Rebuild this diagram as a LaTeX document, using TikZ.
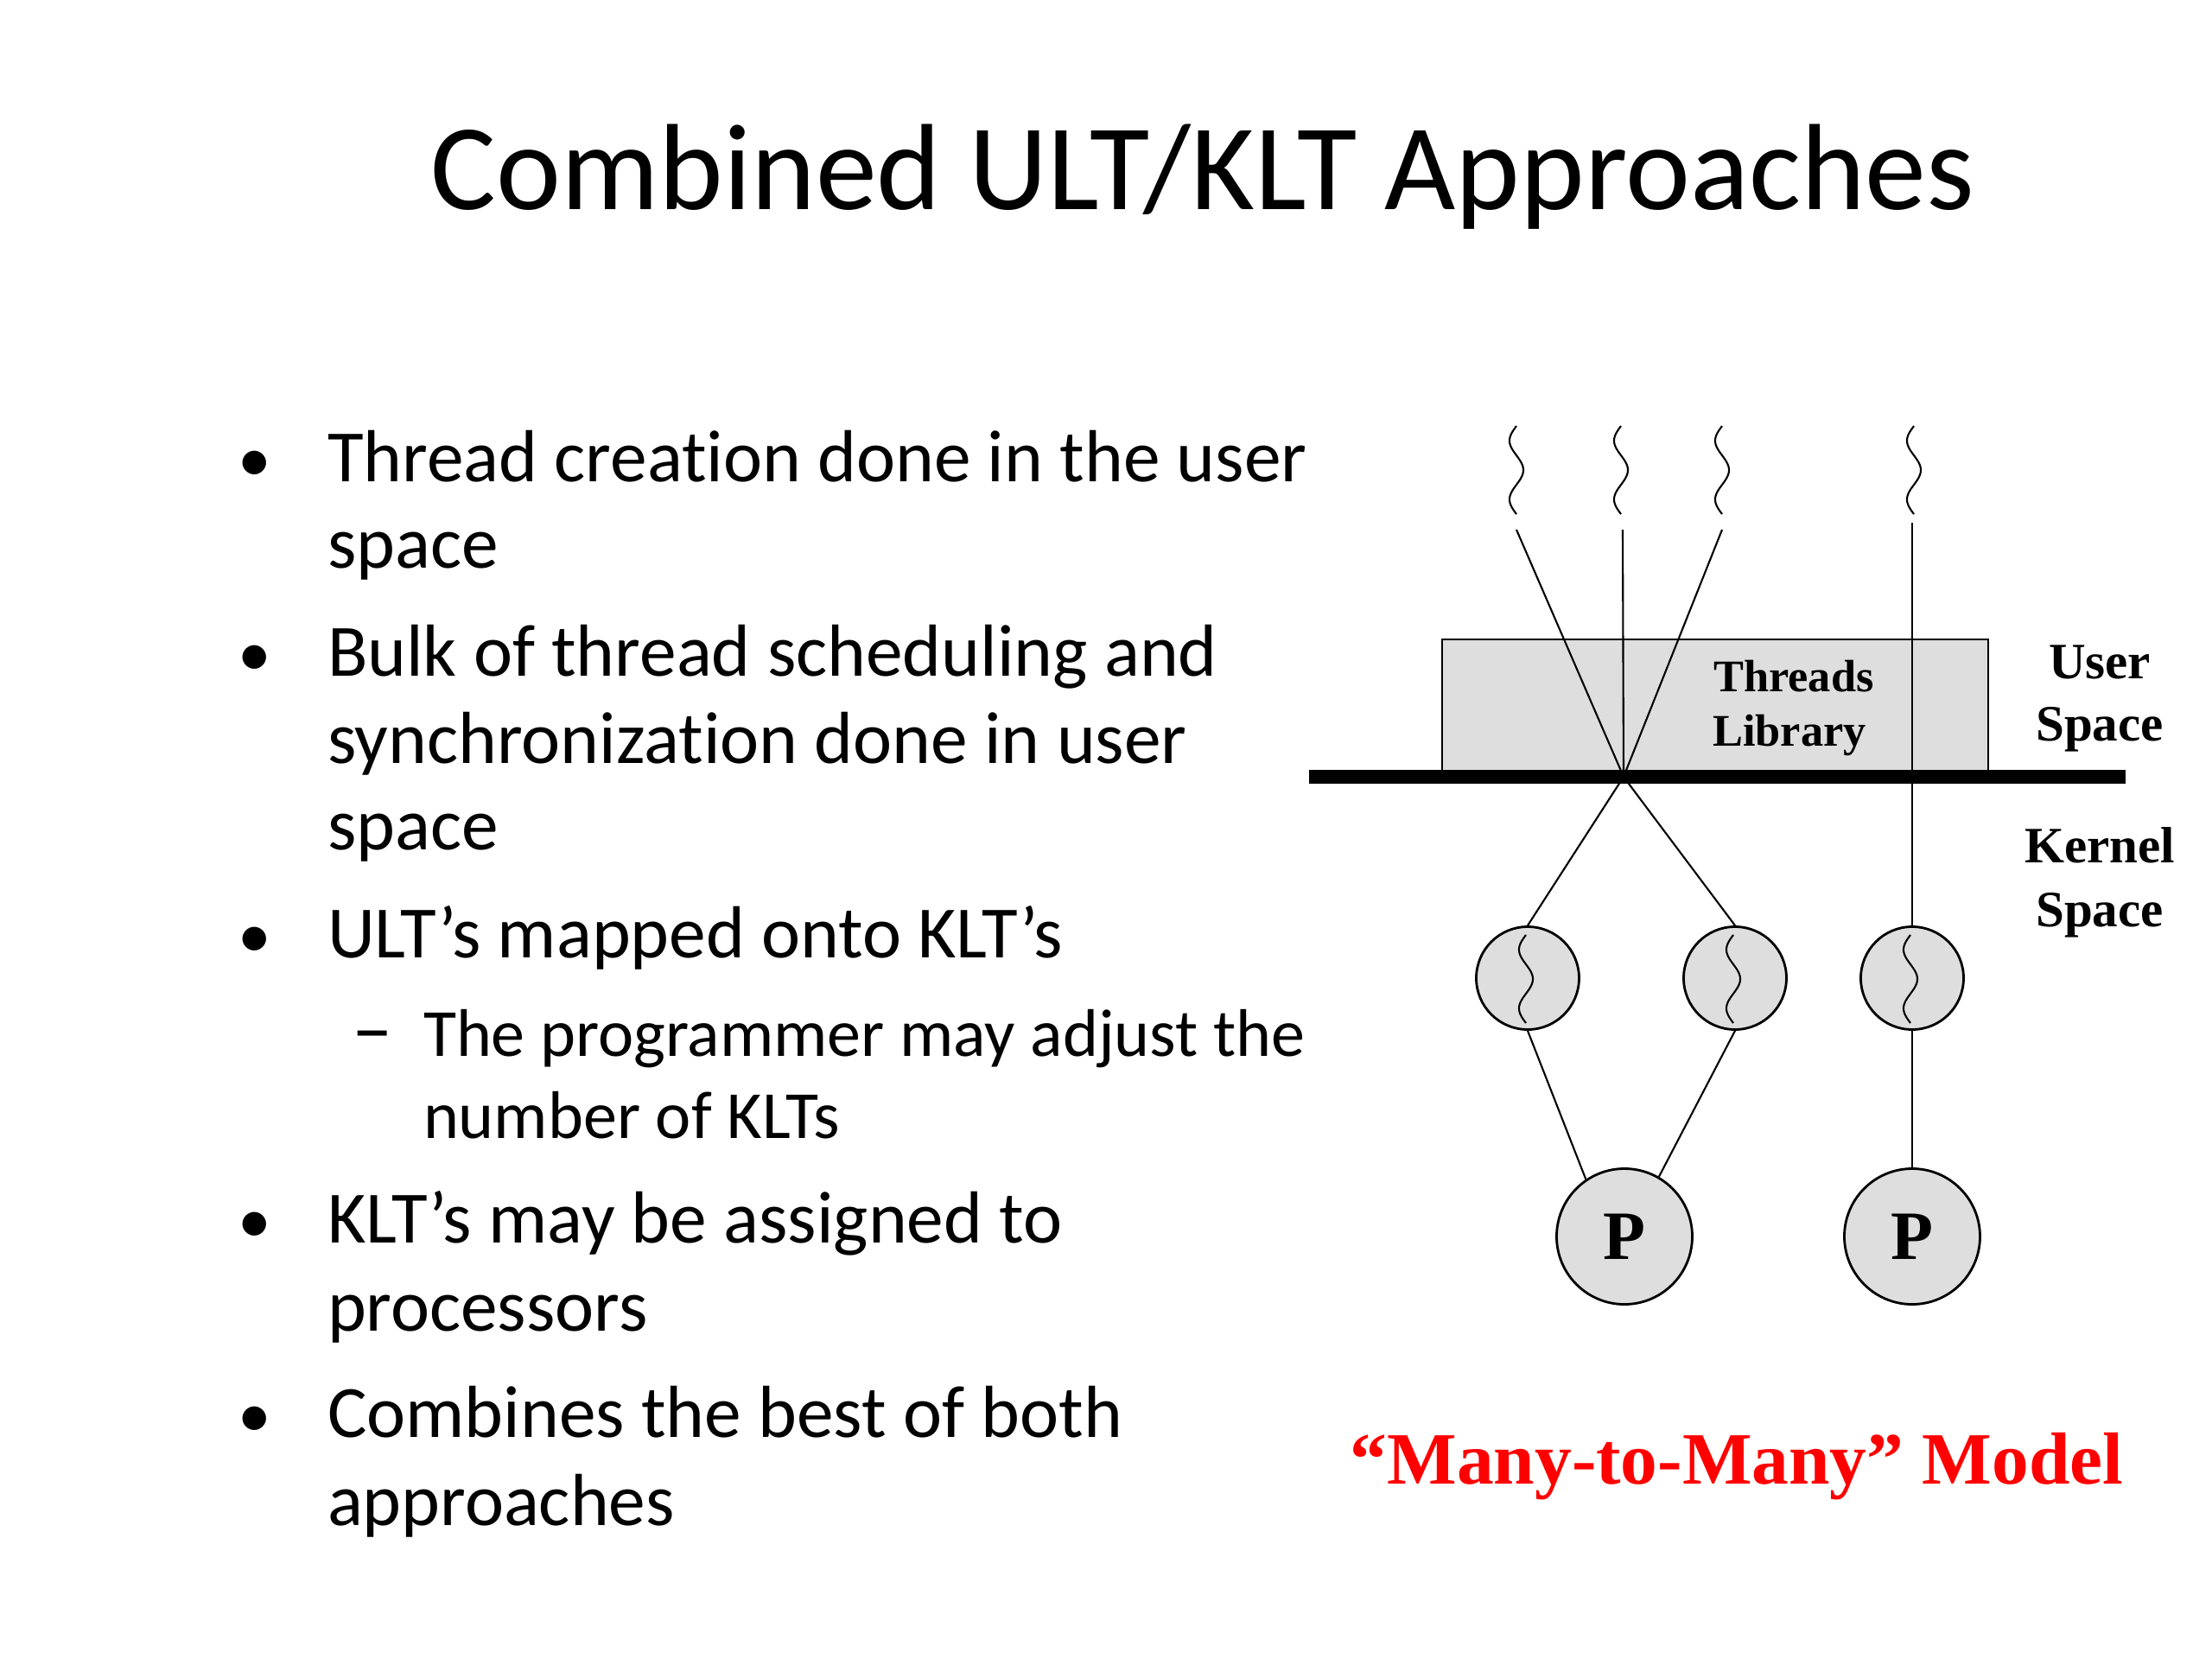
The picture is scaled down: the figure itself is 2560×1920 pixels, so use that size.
\documentclass[tikz,border=0pt]{standalone}
\usepackage{fontspec}
\setmainfont{Carlito}[Ligatures=NoCommon]
\newfontfamily\tnr{Liberation Serif}
\definecolor{cgray}{HTML}{DEDEDE}
\definecolor{cred}{HTML}{FF0000}
\begin{document}
\begin{tikzpicture}[x=0.1mm,y=-0.1mm,
  txt/.style={inner sep=0pt, outer sep=0pt},
  lvlone/.style={txt, anchor=base west, font=\fontsize{24.3}{28}\selectfont},
  lvltwo/.style={txt, anchor=base west, font=\fontsize{22.2}{26}\selectfont},
  bul/.style={txt, anchor=base, font=\fontsize{22}{28}\selectfont},
  dsh/.style={txt, anchor=base, font=\fontsize{27}{30}\selectfont},
  thin/.style={line width=0.6pt, black},
  kcirc/.style={circle, draw=black, line width=0.8pt, fill=cgray, minimum size=11.9mm, inner sep=0pt},
  pcirc/.style={circle, draw=black, line width=0.8pt, fill=cgray, minimum size=15.7mm, inner sep=0pt,
                font=\tnr\bfseries\fontsize{22.8}{26}\selectfont},
  libtxt/.style={txt, anchor=base, font=\tnr\bfseries\fontsize{14.9}{18}\selectfont},
  sptxt/.style={txt, anchor=base, font=\tnr\bfseries\fontsize{16.8}{20}\selectfont},
  squig/.pic={\draw[thin] plot[domain=0:102, samples=60, variable=\t] ({-8*sin(\t/68*360)},\t);}
]
\useasboundingbox (0,0) rectangle (2560,1920);
\fill[white] (0,0) rectangle (2560,1920);

% title
\node[txt, anchor=base, font=\fontsize{40.4}{48}\selectfont] (title) at (1392,242) {Combined ULT/KLT Approaches};

% bullets
\node[bul] (m1) at (295,557) {•};
\node[lvlone] (b1a) at (379,557) {Thread creation done in the user};
\node[lvlone] (b1b) at (379,657) {space};
\node[bul] (m2) at (295,782) {•};
\node[lvlone] (b2a) at (379,782) {Bulk of thread scheduling and};
\node[lvlone] (b2b) at (379,883) {synchronization done in user};
\node[lvlone] (b2c) at (379,983) {space};
\node[bul] (m3) at (295,1108) {•};
\node[lvlone] (b3a) at (379,1108) {ULT’s mapped onto KLT’s};
\node[dsh] (d1) at (431,1222) {–};
\node[lvltwo] (s1a) at (490,1222) {The programmer may adjust the};
\node[lvltwo] (s1b) at (490,1317) {number of KLTs};
\node[bul] (m4) at (295,1438) {•};
\node[lvlone] (b4a) at (379,1438) {KLT’s may be assigned to};
\node[lvlone] (b4b) at (379,1540) {processors};
\node[bul] (m5) at (295,1663) {•};
\node[lvlone] (b5a) at (379,1663) {Combines the best of both};
\node[lvlone] (b5b) at (379,1765) {approaches};

% diagram: threads library box
\draw[fill=cgray, draw=black, line width=0.8pt] (1669,740) rectangle (2301,895);
\node[libtxt] (lib1) at (2076,800) {Threads};
\node[libtxt] (lib2) at (2071,863) {Library};

% user-level threads
\pic at (1755,493) {squig};
\pic at (1876,493) {squig};
\pic at (1993,493) {squig};
\pic at (2215,493) {squig};
\coordinate (t1) at (1755,613);
\coordinate (t2) at (1878,613);
\coordinate (t3) at (1993,613);
\coordinate (t4) at (2213,605);
\coordinate (X) at (1879,899);

% kernel threads and processors
\node[kcirc] (k1) at (1768,1132) {};
\node[kcirc] (k2) at (2008,1132) {};
\node[kcirc] (k3) at (2213,1132) {};
\pic at (1766,1082) {squig};
\pic at (2006,1082) {squig};
\pic at (2211,1082) {squig};
\node[pcirc] (p1) at (1880,1431) {P};
\node[pcirc] (p2) at (2213,1431) {P};

% connectors
\draw[thin] (t1) -- (X);
\draw[thin] (t2) -- (X);
\draw[thin] (t3) -- (X);
\draw[thin] (X) -- (k1.north);
\draw[thin] (X) -- (k2.north);
\draw[thin] (t4) -- (k3.north);
\draw[thin] (k1.south) -- (p1.124);
\draw[thin] (k2.south) -- (p1.60);
\draw[thin] (k3.south) -- (p2.north);

% user/kernel boundary
\fill[black] (1515,891) rectangle (2460,907);

\node[sptxt] (us1) at (2430,785) {User};
\node[sptxt] (us2) at (2430,857) {Space};
\node[sptxt] (ks1) at (2430,998) {Kernel};
\node[sptxt] (ks2) at (2430,1072) {Space};

% caption
\node[txt, anchor=base, text=cred, font=\tnr\bfseries\fontsize{24.3}{28}\selectfont] (cap) at (2010,1717) {“Many-to-Many” Model};
\end{tikzpicture}
\end{document}
